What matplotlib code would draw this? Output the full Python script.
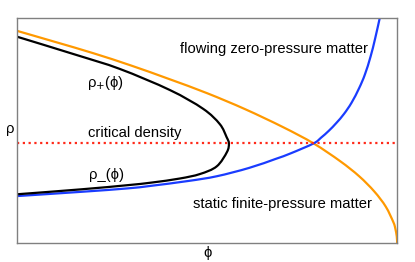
import matplotlib
matplotlib.use("Agg")
import matplotlib.pyplot as plt
from matplotlib.path import Path
from matplotlib.patches import PathPatch
import numpy as np

plt.rcParams['font.family'] = ['Liberation Sans', 'DejaVu Sans']

# rama superior e inferior de rho(phi)
negro_x = [0.0, 0.156, 0.27, 0.402, 0.489, 0.533, 0.551, 0.557,
           0.552, 0.525, 0.481, 0.428, 0.354, 0.288, 0.169, 0.0]
negro_y = [0.918, 0.837, 0.775, 0.681, 0.598, 0.530, 0.472, 0.444,
           0.406, 0.342, 0.308, 0.288, 0.270, 0.258, 0.240, 0.218]

# materia estatica (azul)
azul_x = [0.0, 0.17, 0.29, 0.35, 0.45, 0.525, 0.61, 0.68, 0.72, 0.78,
          0.80, 0.82, 0.84, 0.86, 0.88, 0.90, 0.915, 0.93, 0.942, 0.954]
azul_y = [0.21, 0.229, 0.244, 0.255, 0.277, 0.298, 0.335, 0.375, 0.40, 0.444,
          0.47, 0.50, 0.535, 0.575, 0.625, 0.69, 0.75, 0.83, 0.91, 1.0]

# materia fluyente (naranja)
naranja_x = [0.0, 0.1, 0.2, 0.3, 0.4, 0.5, 0.6, 0.7, 0.78, 0.85,
             0.9, 0.94, 0.97, 0.99, 0.995, 0.999, 1.0]
naranja_y = [0.944, 0.895, 0.845, 0.79, 0.73, 0.667, 0.596, 0.516, 0.444, 0.365,
             0.298, 0.23, 0.163, 0.094, 0.067, 0.03, 0.0]

densidad_critica = 0.444


def curva_suave(ax, xs, ys, **kw):
    # traza los puntos con tramos bezier (catmull-rom) para que no se vea quebrado
    p = np.column_stack([xs, ys])
    verts = [p[0]]
    codes = [Path.MOVETO]
    for i in range(len(p) - 1):
        p0 = p[i - 1] if i > 0 else p[i]
        p3 = p[i + 2] if i + 2 < len(p) else p[i + 1]
        c1 = p[i] + (p[i + 1] - p0) / 6
        c2 = p[i + 1] - (p3 - p[i]) / 6
        verts += [c1, c2, p[i + 1]]
        codes += [Path.CURVE4] * 3
    ax.add_patch(PathPatch(Path(verts, codes), fill=False, **kw))


fig = plt.figure(figsize=(4.15, 2.62), dpi=100)
ax = fig.add_axes([0.0417, 0.0714, 0.9153, 0.8586])

curva_suave(ax, naranja_x, naranja_y, edgecolor='#ff9900', lw=1.6)
curva_suave(ax, azul_x, azul_y, edgecolor='#1a3cff', lw=1.6)
curva_suave(ax, negro_x, negro_y, edgecolor='black', lw=1.6)
ax.axhline(densidad_critica, color='#ff2a1a', lw=1.6, ls=(0, (1, 1.6)))

ax.set_xlim(0, 1)
ax.set_ylim(0, 1)
ax.set_xticks([])
ax.set_yticks([])
for s in ax.spines.values():
    s.set_color('#808080')
    s.set_linewidth(1.0)

fs = 10.6
ax.text(0.675, 0.862, 'flowing zero-pressure matter', fontsize=fs, ha='center', va='center')
ax.text(0.699, 0.176, 'static finite-pressure matter', fontsize=fs, ha='center', va='center')
ax.text(0.308, 0.489, 'critical density', fontsize=fs, ha='center', va='center')
ax.text(0.233, 0.711, 'ρ$_{+}$(ϕ)', fontsize=fs, ha='center', va='center')
ax.text(0.236, 0.304, 'ρ_(ϕ)', fontsize=fs, ha='center', va='center')

fig.text(10 / 415, 1 - 129 / 262, 'ρ', fontsize=fs, ha='center', va='center')
fig.text(208 / 415, 1 - 253 / 262, 'ϕ', fontsize=fs, ha='center', va='center')

fig.savefig('out.png', dpi=100)
